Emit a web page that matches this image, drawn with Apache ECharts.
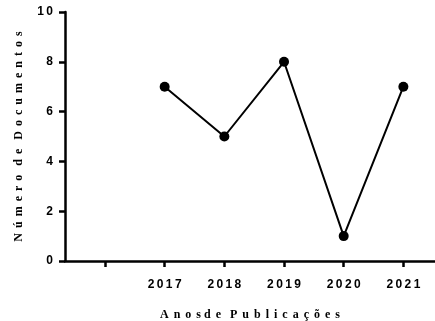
<!DOCTYPE html>
<html>
<head>
<meta charset="utf-8">
<script src="https://cdn.jsdelivr.net/npm/echarts@6/dist/echarts.min.js"></script>
<style>
  html, body { margin: 0; padding: 0; background: #fff; }
  #chart { width: 435px; height: 321px; }
</style>
</head>
<body>
<div id="chart"></div>
<script>
// Publication years and document counts
const years = [2017, 2018, 2019, 2020, 2021];
const counts = [7, 5, 8, 1, 7];
// Tick positions on the year axis (first tick is an empty slot)
const yearTicks = [2016, 2017, 2018, 2019, 2020, 2021];

// Letter-spaced text helpers
const spaced = s => s.split('').join('\u2009');
const track = w => w.split('').join(' \u2006');

const xTitle = track('Anos') + ' ' + track('de') + '   ' + track('Publicações');
const yTitle = track('Número') + '   ' + track('de') + '   ' + track('Documentos');

const chart = echarts.init(document.getElementById('chart'), null, { renderer: 'canvas' });

chart.setOption({
  animation: false,
  backgroundColor: '#ffffff',
  grid: { left: 65, right: 0, top: 12, bottom: 60, containLabel: false, outerBoundsMode: 'none' },
  xAxis: {
    type: 'value',
    min: 2015.33,
    max: 2021.53,
    name: xTitle,
    nameLocation: 'middle',
    nameGap: 48,
    nameTextStyle: { fontFamily: 'Liberation Serif', fontWeight: 'bold', fontSize: 12, color: '#000' },
    axisLine: { onZero: false, lineStyle: { color: '#000', width: 2.5 } },
    axisTick: { show: true, length: 6, customValues: yearTicks, lineStyle: { color: '#000', width: 2.5 } },
    axisLabel: {
      customValues: years,
      margin: 18,
      formatter: v => spaced(String(v)),
      fontFamily: 'Liberation Sans', fontWeight: 'bold', fontSize: 12, color: '#000'
    },
    splitLine: { show: false }
  },
  yAxis: {
    type: 'value',
    min: 0,
    max: 10,
    interval: 2,
    name: yTitle,
    nameLocation: 'middle',
    nameGap: 40,
    nameTextStyle: { fontFamily: 'Liberation Serif', fontWeight: 'bold', fontSize: 12, color: '#000' },
    axisLine: { show: true, lineStyle: { color: '#000', width: 2.5 } },
    axisTick: { show: true, length: 6, lineStyle: { color: '#000', width: 2.5 } },
    axisLabel: {
      margin: 12,
      formatter: v => spaced(String(v)),
      fontFamily: 'Liberation Sans', fontWeight: 'bold', fontSize: 12, color: '#000'
    },
    splitLine: { show: false }
  },
  series: [{
    type: 'line',
    data: years.map((y, i) => [y, counts[i]]),
    symbol: 'circle',
    symbolSize: 10,
    itemStyle: { color: '#000' },
    lineStyle: { color: '#000', width: 2 }
  }]
});
</script>
</body>
</html>
